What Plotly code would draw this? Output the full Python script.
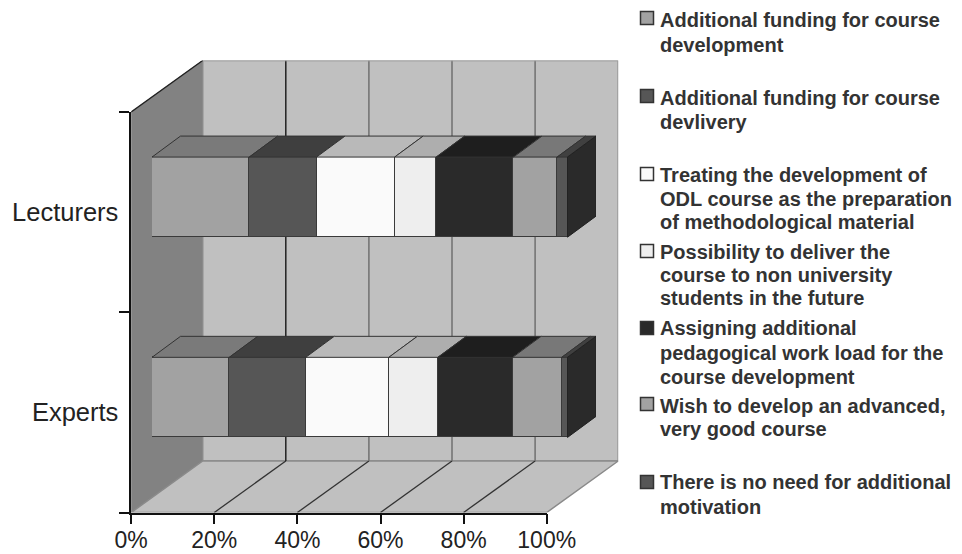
import plotly.graph_objects as go

W, H = 962, 554
categories = ["Experts", "Lecturers"]
cat_pos = [0.5, 1.5]
series_names = [
    "Additional funding for course<br>development",
    "Additional funding for course<br>devlivery",
    "Treating the development of<br>ODL course as the preparation<br>of methodological material",
    "Possibility to deliver the<br>course to non university<br>students in the future",
    "Assigning additional<br>pedagogical work load for the<br>course development",
    "Wish to develop an advanced,<br>very good course",
    "There is no need for additional<br>motivation",
]
experts = [18.6, 18.4, 20.0, 11.8, 18.0, 11.8, 1.4]
lecturers = [23.4, 16.2, 18.8, 10.0, 18.6, 10.5, 2.5]
front_colors = ["#A2A2A2", "#565656", "#FAFAFA", "#EEEEEE", "#2A2A2A", "#A2A2A2", "#565656"]
top_colors = ["#7A7A7A", "#3F3F3F", "#B9B9B9", "#AEAEAE", "#1E1E1E", "#787878", "#404040"]
side_color = "#2A2A2A"
x_ticks = [0, 20, 40, 60, 80, 100]
wall_grid_colors = {20: "#222222", 40: "#707070", 60: "#707070", 80: "#707070"}
legend_y_px = [18, 96, 174, 251, 328, 404, 482]
legend_line_y_px = [
    [20, 45], [98, 122], [175, 199, 222], [252, 275, 298],
    [328, 353, 377], [406, 429], [482, 507],
]

# pixel geometry of the 3D projection
AX_L, AX_R, AX_T, AX_B = 131.2, 546.7, 112.0, 512.5
BACK_DX, BACK_DY = 71.5, 51.5
BAR_DX, BAR_DY = 20.8, 15.0
BAR_DEPTH_X, BAR_DEPTH_Y = 28.5, 21.0
BAR_W = 0.4

ux = 100 / (AX_R - AX_L)
uy = 2 / (AX_B - AX_T)
bx, by = BACK_DX * ux, BACK_DY * uy
dx, dy = BAR_DEPTH_X * ux, BAR_DEPTH_Y * uy

fig = go.Figure()


def poly(x, y, fill, line="rgba(0,0,0,0)", lw=0, xa="x", ya="y", name=""):
    fig.add_trace(go.Scatter(
        x=x, y=y, mode="lines", fill="toself", fillcolor=fill,
        line=dict(color=line, width=lw), xaxis=xa, yaxis=ya,
        cliponaxis=False, showlegend=False, hoverinfo="skip", name=name))


def seg(x, y, color, lw=1.5):
    fig.add_trace(go.Scatter(
        x=x, y=y, mode="lines", line=dict(color=color, width=lw),
        cliponaxis=False, showlegend=False, hoverinfo="skip"))


# walls and floor
poly([0, bx, bx, 0, 0], [0, by, 2 + by, 2, 0], "#828282", "#808080", 1)
poly([bx, 100 + bx, 100 + bx, bx, bx], [by, by, 2 + by, 2 + by, by], "#C0C0C0", "#8A8A8A", 1.5)
poly([0, 100, 100 + bx, bx, 0], [0, 0, by, by, 0], "#C0C0C0", "#8A8A8A", 1.5)
for v in x_ticks[1:-1]:
    seg([v, v + bx], [0, by], "#333333", 1.3)
    seg([v + bx, v + bx], [by, 2 + by], wall_grid_colors[v], 1.5)
seg([0, bx], [2, 2 + by], "#222222", 1.3)
seg([bx, 100 + bx], [2 + by, 2 + by], "#B0B0B0", 1.5)

# bars
for i, nm in enumerate(series_names):
    fig.add_trace(go.Bar(
        x=[experts[i], lecturers[i]], y=cat_pos, orientation="h", width=BAR_W,
        name=nm.replace("<br>", " "),
        marker=dict(color=front_colors[i], line=dict(color="#3A3A3A", width=1.2)),
        xaxis="x2", yaxis="y2", cliponaxis=False, showlegend=False))

# top faces and end faces, from the same values
for i in range(len(series_names)):
    px, py = [], []
    for vals, c in zip((experts, lecturers), cat_pos):
        a = sum(vals[:i])
        b = a + vals[i]
        t = c + BAR_W / 2
        px += [a, b, b + dx, a + dx, a, None]
        py += [t, t, t + dy, t + dy, t, None]
    poly(px, py, top_colors[i], "#333333", 1, "x2", "y2", series_names[i])
px, py = [], []
for c in cat_pos:
    t, b = c + BAR_W / 2, c - BAR_W / 2
    px += [100, 100 + dx, 100 + dx, 100, 100, None]
    py += [t, t + dy, b + dy, b, t, None]
poly(px, py, side_color, "#222222", 1, "x2", "y2", "end")

# invisible anchor so the visible tick axes exist as a subplot
fig.add_trace(go.Scatter(x=[x_ticks[0], x_ticks[-1]], y=cat_pos, mode="markers",
                         marker=dict(opacity=0), xaxis="x3", yaxis="y3",
                         showlegend=False, hoverinfo="skip"))

xf = dict(family="Liberation Sans", size=23, color="#222222")
yf = dict(family="Liberation Sans", size=25.5, color="#222222")
fig.update_layout(
    width=W, height=H, margin=dict(l=0, r=0, t=0, b=0, autoexpand=False),
    paper_bgcolor="white", plot_bgcolor="rgba(0,0,0,0)",
    barmode="stack", showlegend=False, bargap=0,
    xaxis=dict(domain=[AX_L / W, (AX_R + BACK_DX) / W], range=[0, 100 + bx], anchor="y", visible=False),
    yaxis=dict(domain=[(H - AX_B) / H, (H - AX_T + BACK_DY) / H], range=[0, 2 + by], anchor="x", visible=False),
    xaxis2=dict(domain=[(AX_L + BAR_DX) / W, (AX_R + BAR_DX + BAR_DEPTH_X) / W], range=[0, 100 + dx],
                anchor="y2", visible=False),
    yaxis2=dict(domain=[(H - AX_B + BAR_DY) / H, (H - AX_T + BAR_DY + BAR_DEPTH_Y) / H], range=[0, 2 + dy],
                anchor="x2", visible=False),
    xaxis3=dict(domain=[AX_L / W, AX_R / W], range=[0, 100], anchor="y3",
                tickvals=x_ticks, ticktext=[f"{v}%" for v in x_ticks], ticks="outside",
                ticklen=10, tickwidth=1.5, tickcolor="#111111", showgrid=False,
                ticklabelstandoff=-4,
                zeroline=False, showline=True, linecolor="#111111", linewidth=1.5, tickfont=xf),
    yaxis3=dict(domain=[(H - AX_B) / H, (H - AX_T) / H], range=[0, 2], anchor="x3",
                tickvals=cat_pos, ticktext=categories, ticks="", ticklen=0,
                minor=dict(tickvals=[0, 1, 2], ticks="outside", ticklen=10, tickwidth=1.5,
                           tickcolor="#111111", showgrid=False),
                ticklabelstandoff=6,
                showgrid=False, zeroline=False, showline=True, linecolor="#111111",
                linewidth=1.5, tickfont=yf),
)

# legend, placed to follow the reference's uneven spacing
LF = dict(family="Liberation Sans", size=20, color="#333333")
for nm, col, y, line_ys in zip(series_names, front_colors, legend_y_px, legend_line_y_px):
    fig.add_shape(type="rect", xref="paper", yref="paper",
                  x0=640.5 / W, x1=653.5 / W, y0=(H - y - 6.5) / H, y1=(H - y + 6.5) / H,
                  fillcolor=col, line=dict(color="#333333", width=1.5))
    for txt, ly in zip(nm.split("<br>"), line_ys):
        fig.add_annotation(text="<b>" + txt + "</b>", xref="paper", yref="paper",
                           x=659 / W, y=(H - ly) / H, xanchor="left", yanchor="middle",
                           align="left", showarrow=False, font=LF, borderpad=0)

fig.write_html("out.html", config={"displayModeBar": False},
               post_script="document.body.style.margin='0';document.body.style.overflow='hidden';")
